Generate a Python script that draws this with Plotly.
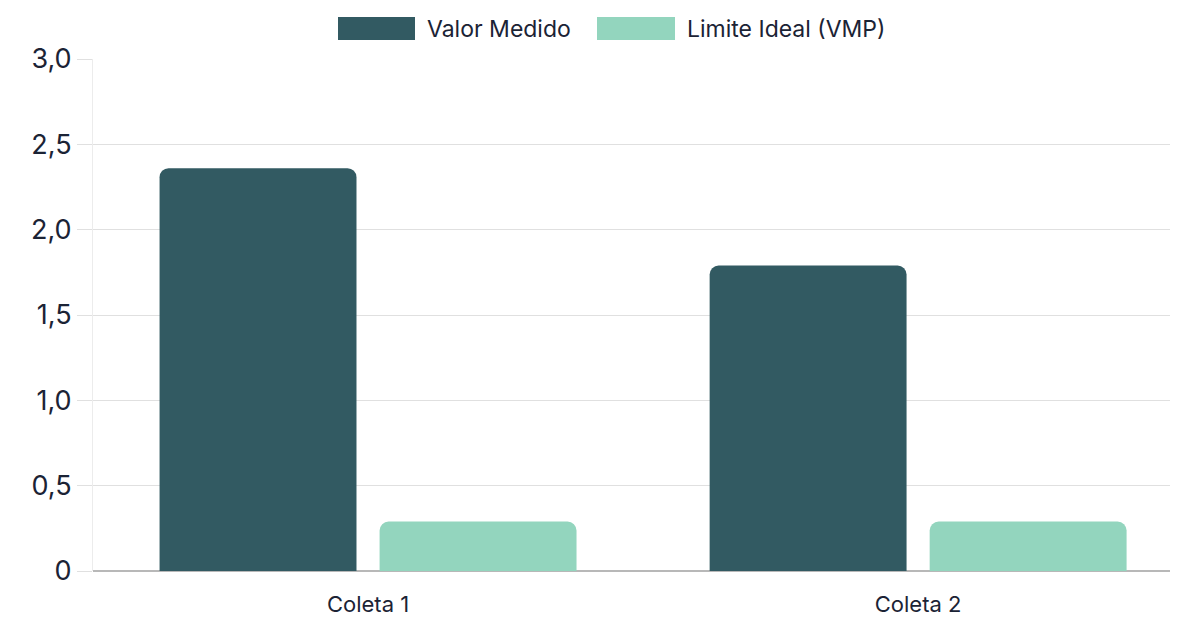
import plotly.graph_objects as go

# data
coletas = ["Coleta 1", "Coleta 2"]
valor_medido = [2.36, 1.79]
limite_ideal = [0.29, 0.29]
series_names = ["Valor Medido", "Limite Ideal (VMP)"]
y_ticks = [0, 0.5, 1.0, 1.5, 2.0, 2.5, 3.0]
y_ticklabels = ["0", "0,5", "1,0", "1,5", "2,0", "2,5", "3,0"]

DARK = "#325a62"
LIGHT = "#93d5be"
TEXT = "#1b2335"
FONT = "Inter"

fig = go.Figure()
fig.add_trace(go.Bar(x=coletas, y=valor_medido, name=series_names[0],
                     marker=dict(color=DARK, cornerradius=9, line=dict(width=0)),
                     showlegend=False))
fig.add_trace(go.Bar(x=coletas, y=limite_ideal, name=series_names[1],
                     marker=dict(color=LIGHT, cornerradius=9, line=dict(width=0)),
                     showlegend=False))

# legend drawn as boxes + labels at the top (page px -> paper fraction)
for x0, x1, color, label in [(338, 415, DARK, series_names[0]),
                             (597, 675, LIGHT, series_names[1])]:
    fig.add_shape(type="rect", xref="paper", yref="paper",
                  x0=(x0 - 93) / 1082, x1=(x1 - 93) / 1082,
                  y0=(571 - 40) / 512, y1=(571 - 17) / 512,
                  fillcolor=color, line=dict(width=0))
    fig.add_annotation(xref="paper", yref="paper",
                       x=(x1 + 10 - 93) / 1082, y=(571 - 28.5) / 512,
                       text=label, showarrow=False, xanchor="left", yanchor="middle",
                       font=dict(family=FONT, size=23, color=TEXT))

# page body has an 8px margin, so the figure is a bit smaller and shifted
fig.update_layout(
    width=1170, height=609,
    margin=dict(l=85, r=3, t=51, b=46),
    paper_bgcolor="white", plot_bgcolor="white",
    barmode="group", bargap=0.2, bargroupgap=0.105,
    font=dict(family=FONT, color=TEXT),
)
fig.update_xaxes(range=[-0.5, 1.467], showgrid=False, zeroline=False,
                 showline=False, ticks="", automargin=False,
                 ticklabelstandoff=18,
                 tickfont=dict(family=FONT, size=22, color=TEXT))
fig.update_yaxes(range=[0, 3.0], tickvals=y_ticks, ticktext=y_ticklabels,
                 showgrid=True, gridcolor="#e0e0e0", gridwidth=1,
                 zeroline=True, zerolinecolor="#b8b8b8", zerolinewidth=1.5,
                 showline=True, linecolor="#ececec", linewidth=1,
                 ticks="outside", ticklen=15, tickcolor="#e0e0e0",
                 automargin=False,
                 tickfont=dict(family=FONT, size=27, color=TEXT))

fig.write_html("out.html")
